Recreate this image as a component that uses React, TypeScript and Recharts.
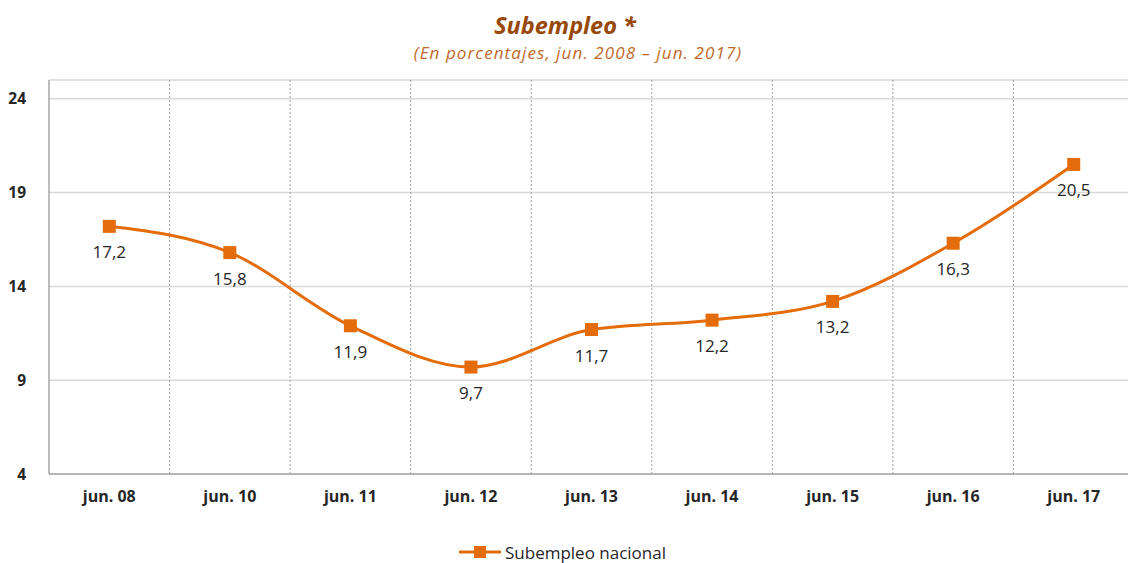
import React from "react";
import { LineChart, Line, XAxis, YAxis, CartesianGrid, LabelList, Legend } from "recharts";

const categories = ["jun. 08", "jun. 10", "jun. 11", "jun. 12", "jun. 13", "jun. 14", "jun. 15", "jun. 16", "jun. 17"];
const subempleo = [17.2, 15.8, 11.9, 9.7, 11.7, 12.2, 13.2, 16.3, 20.5];
const yTicks = [4, 9, 14, 19, 24];
const seriesName = "Subempleo nacional";

const data = categories.map((c, i) => ({ cat: c, v: subempleo[i] }));

const ORANGE = "#E46C0A";
const FONT = "'Open Sans', sans-serif";

const SquareDot = (props: any) => {
  const { cx, cy, index } = props;
  if (cx == null || cy == null) return <g key={index} />;
  return <rect key={index} x={cx - 6.5} y={cy - 6.5} width={13} height={13} fill={ORANGE} />;
};

const LegendContent = () => (
  <div style={{ display: "flex", justifyContent: "center", alignItems: "center", height: 28, fontFamily: FONT, paddingRight: 18, paddingTop: 6, boxSizing: "border-box", lineHeight: 1 }}>
    <svg width={42} height={14} style={{ marginRight: 4 }}>
      <line x1={0} y1={7} x2={42} y2={7} stroke={ORANGE} strokeWidth={3} />
      <rect x={15} y={1} width={12} height={12} fill={ORANGE} />
    </svg>
    <span style={{ fontSize: 17, color: "#262626" }}>{seriesName}</span>
  </div>
);

export default function App() {
  return (
    <div style={{ position: "absolute", left: 0, top: 0, width: 1128, height: 563, overflow: "hidden", background: "#fff" }}>
      <div style={{ position: "absolute", left: 0, top: 9, width: 1130, textAlign: "center", fontFamily: FONT, fontStyle: "italic", fontWeight: 700, fontSize: 23.5, color: "#984807" }}>
        Subempleo *
      </div>
      <div style={{ position: "absolute", left: 0, top: 41, width: 1156, textAlign: "center", fontFamily: FONT, fontStyle: "italic", fontSize: 17, letterSpacing: 1.1, color: "#c0692a" }}>
        (En porcentajes, jun. 2008 – jun. 2017)
      </div>
      <div style={{ position: "absolute", left: 0, top: 0 }}>
        <LineChart width={1134} height={563} data={data} margin={{ top: 80, right: 0, bottom: 0, left: 9 }}>
          <CartesianGrid vertical={false} stroke="#d9d9d9" strokeWidth={1.5} />
          <CartesianGrid
            horizontal={false}
            stroke="#a0a0a0"
            strokeDasharray="2 2"
            verticalCoordinatesGenerator={({ offset }: any) =>
              categories.slice(1).map((_, i) => offset.left + ((i + 1) * offset.width) / categories.length)
            }
          />
          <XAxis
            dataKey="cat"
            scale="band"
            height={61}
            tickLine={false}
            stroke="#a6a6a6"
            strokeWidth={1.5}
            tickMargin={11}
            tick={{ fontFamily: FONT, fontSize: 16, fontWeight: 700, fill: "#262626" }}
          />
          <YAxis
            width={40}
            domain={[4, 25]}
            ticks={yTicks}
            tickLine={false}
            stroke="#a6a6a6"
            strokeWidth={1.5}
            tickMargin={17}
            tick={{ fontFamily: FONT, fontSize: 15.5, fontWeight: 700, fill: "#262626" }}
          />
          <Legend verticalAlign="bottom" height={28} content={<LegendContent />} />
          <Line
            type="monotone"
            dataKey="v"
            name={seriesName}
            stroke={ORANGE}
            strokeWidth={3}
            dot={<SquareDot />}
            activeDot={false}
            isAnimationActive={false}
          >
            <LabelList
              dataKey="v"
              position="bottom"
              offset={20}
              formatter={(v: any) => String(v).replace(".", ",")}
              style={{ fontFamily: FONT, fontSize: 17, fill: "#262626" }}
            />
          </Line>
        </LineChart>
      </div>
    </div>
  );
}
